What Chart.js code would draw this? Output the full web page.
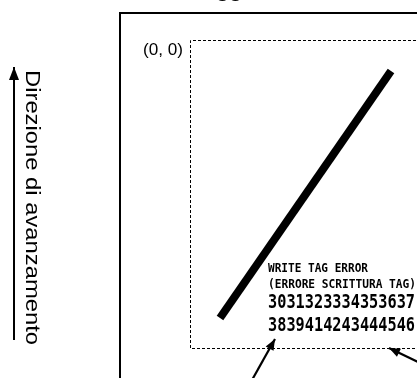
<!DOCTYPE html>
<html>
<head>
<meta charset="utf-8">
<script src="https://cdn.jsdelivr.net/npm/chart.js@4.4.0/dist/chart.umd.min.js"></script>
<style>
html, body { margin: 0; padding: 0; background: #fff; }
#wrap { width: 417px; height: 378px; }
</style>
</head>
<body>
<div id="wrap"><canvas id="myChart"></canvas></div>
<script>
// diagram space = 417 x 378, y grows downwards
const outerFrame = [{x: 120, y: 400}, {x: 120, y: 13}, {x: 430, y: 13}];
const tagFrame = [{x: 430, y: 348.5}, {x: 190.5, y: 348.5}, {x: 190.5, y: 40.5}, {x: 430, y: 40.5}];
const printStroke = [{x: 220, y: 318}, {x: 391, y: 71}];
const feedArrow = [{x: 14, y: 340}, {x: 14, y: 67}];
const pointerA = [{x: 252, y: 380}, {x: 275, y: 339}];
const pointerB = [{x: 420, y: 363}, {x: 389, y: 348}];

const labelTexts = ['(0, 0)', 'WRITE TAG ERROR', '(ERRORE SCRITTURA TAG)', '3031323334353637', '3839414243444546', 'gg'];
const labelPos = [{x: 143, y: 55}, {x: 268, y: 272}, {x: 268, y: 288}, {x: 268, y: 308}, {x: 268, y: 331}, {x: 216, y: -3}];
const sideText = 'Direzione di avanzamento';

const ctx = document.getElementById('myChart').getContext('2d');

function seg(data, width, dash) {
	return {
		data: data,
		showLine: true,
		borderColor: '#000',
		borderWidth: width,
		borderDash: dash || [],
		borderCapStyle: 'butt',
		pointRadius: 0,
		tension: 0,
		clip: false
	};
}

const arrowHeads = {
	id: 'arrowHeads',
	afterDatasetsDraw(chart) {
		const c = chart.ctx, xs = chart.scales.x, ys = chart.scales.y;
		[[feedArrow, 13, 5], [pointerA, 11, 4.5], [pointerB, 11, 4.5]].forEach(function (a) {
			const p0 = a[0][0], p1 = a[0][1];
			const x0 = xs.getPixelForValue(p0.x), y0 = ys.getPixelForValue(p0.y);
			const x1 = xs.getPixelForValue(p1.x), y1 = ys.getPixelForValue(p1.y);
			const ang = Math.atan2(y1 - y0, x1 - x0);
			c.save();
			c.translate(x1, y1);
			c.rotate(ang);
			c.fillStyle = '#000';
			c.beginPath();
			c.moveTo(0, 0);
			c.lineTo(-a[1], -a[2]);
			c.lineTo(-a[1], a[2]);
			c.closePath();
			c.fill();
			c.restore();
		});
	}
};

// draws text stretched/squeezed to an exact width
function fitText(c, t, x, y, w) {
	const m = c.measureText(t).width;
	c.save();
	c.translate(x, y);
	c.scale(w / m, 1);
	c.fillText(t, 0, 0);
	c.restore();
}

const labels = {
	id: 'labels',
	afterDraw(chart) {
		const c = chart.ctx, xs = chart.scales.x, ys = chart.scales.y;
		c.save();
		c.fillStyle = '#000';
		c.textBaseline = 'alphabetic';
		const fonts = ['17px "Liberation Sans"', 'bold 13px "DejaVu Sans Mono"', 'bold 13px "DejaVu Sans Mono"',
			'bold 19px "DejaVu Sans Mono"', 'bold 19px "DejaVu Sans Mono"', '20px "Liberation Sans"'];
		const widths = [40, 100, 148, 147, 147, 26];
		labelTexts.forEach(function (t, i) {
			c.font = fonts[i];
			fitText(c, t, xs.getPixelForValue(labelPos[i].x), ys.getPixelForValue(labelPos[i].y), widths[i]);
		});
		// side caption, rotated
		c.translate(xs.getPixelForValue(26), ys.getPixelForValue(70));
		c.rotate(Math.PI / 2);
		c.font = '20px "Liberation Sans"';
		fitText(c, sideText, 0, 0, 275);
		c.restore();
	}
};

const myChart = new Chart(ctx, {
	type: 'scatter',
	data: {
		datasets: [
			seg(outerFrame, 2),
			seg(tagFrame, 1, [3, 2]),
			seg(printStroke, 8),
			seg(feedArrow, 2),
			seg(pointerA, 2.2),
			seg(pointerB, 2.2)
		]
	},
	options: {
		responsive: true,
		maintainAspectRatio: false,
		animation: false,
		layout: { padding: 0 },
		plugins: { legend: { display: false }, tooltip: { enabled: false } },
		scales: {
			x: { type: 'linear', min: 0, max: 417, display: false },
			y: { type: 'linear', min: 0, max: 378, reverse: true, display: false }
		}
	},
	plugins: [arrowHeads, labels]
});
</script>
</body>
</html>
